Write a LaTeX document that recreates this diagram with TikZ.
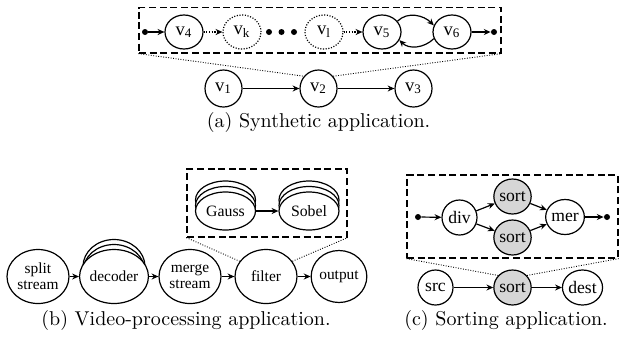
\documentclass[tikz,border=0pt]{standalone}
\usepackage{fontspec}
\newfontfamily\tms{Liberation Serif}
\usetikzlibrary{shapes.geometric,arrows.meta}
\begin{document}
\begin{tikzpicture}[x=0.5pt,y=0.5pt,
  every node/.style={inner sep=0pt},
  nd/.style={ellipse,draw,line width=0.6pt,fill=white,align=center},
  na/.style={nd,minimum width=19pt,minimum height=17pt,font=\tms\fontsize{9.3}{10}\selectfont},
  nab/.style={nd,minimum width=18.5pt,minimum height=18.5pt,font=\tms\fontsize{9.3}{10}\selectfont},
  dotn/.style={dash pattern=on 0.55pt off 0.8pt},
  nb/.style={nd,minimum width=31pt,minimum height=27pt,font=\tms\fontsize{7.7}{8.2}\selectfont},
  nbs/.style={nd,minimum width=30pt,minimum height=19pt,font=\tms\fontsize{7.9}{8}\selectfont},
  nc/.style={nd,minimum width=17.5pt,minimum height=17.5pt,font=\tms\fontsize{8.8}{9}\selectfont},
  grayf/.style={fill=black!16},
  bdot/.style={circle,fill,minimum size=3pt},
  arr/.style={line width=0.6pt,-{Stealth[length=3.4pt,width=3pt]}},
  dbox/.style={draw,line width=0.6pt,dash pattern=on 3.5pt off 1.8pt},
  link/.style={line width=0.45pt,dash pattern=on 0.45pt off 0.8pt},
  capt/.style={font=\fontsize{10}{12}\selectfont,anchor=base}
]
\useasboundingbox (0,0) rectangle (619,-339);

% ---------- (a) ----------
\node[dbox,minimum width=181pt,minimum height=22.75pt] (boxa) at (320,-30.25) {};
\node[bdot] (ina) at (145,-32) {};
\node[na] (v4) at (184,-32) {v\textsubscript{4}};
\node[na,dotn] (vk) at (242,-32) {v\textsubscript{k}};
\node[bdot] (d1) at (269,-32) {};
\node[bdot] (d2) at (281.5,-32) {};
\node[bdot] (d3) at (294,-32) {};
\node[na,dotn] (vl) at (324,-32) {v\textsubscript{l}};
\node[na] (v5) at (382,-32) {v\textsubscript{5}};
\node[na] (v6) at (452,-32) {v\textsubscript{6}};
\node[bdot] (outa) at (494,-32) {};
\draw[arr] (ina) -- (v4);
\draw[arr,dotn] (v4) -- (vk);
\draw[arr,dotn] (vl) -- (v5);
\draw[arr] (v5.35) to[out=45,in=135] (v6.160);
\draw[arr] (v6.200) to[out=-135,in=-45] (v5.-25);
\draw[arr] (v6) -- (outa);

\node[nab] (v1) at (223.5,-88.5) {v\textsubscript{1}};
\node[nab] (v2) at (318.5,-88.5) {v\textsubscript{2}};
\node[nab] (v3) at (413.5,-88.5) {v\textsubscript{3}};
\draw[arr] (v1) -- (v2);
\draw[arr] (v2) -- (v3);
\draw[link] (boxa.south west) -- (v2.140);
\draw[link] (v2.40) -- (boxa.south east);
\node[capt] (capa) at (318.5,-127) {(a) Synthetic application.};

% ---------- (b) ----------
\node[dbox,minimum width=80pt,minimum height=34pt] (boxb) at (267,-203) {};
\node[nbs] (g3) at (225.5,-200) {};
\node[nbs] (g2) at (225.5,-205.5) {};
\node[nbs] (gauss) at (225.5,-211) {Gauss};
\node[nbs] (s3) at (309,-200) {};
\node[nbs] (s2) at (309,-205.5) {};
\node[nbs] (sobel) at (309,-211) {Sobel};
\draw[arr] (gauss) -- (sobel);

\node[nb] (split) at (38,-276.5) {split\\stream};
\node[nb] (dec3) at (114,-266.5) {};
\node[nb] (dec2) at (114,-271.5) {};
\node[nb] (dec) at (114,-276.5) {decoder};
\node[nb] (merge) at (190,-276.5) {merge\\stream};
\node[nb] (filter) at (266,-276.5) {filter};
\node[nb,minimum width=26.5pt,minimum height=26pt] (output) at (339,-276.5) {output};
\draw[arr] (split) -- (dec);
\draw[arr] (dec) -- (merge);
\draw[arr] (merge) -- (filter);
\draw[arr] (filter) -- (output);
\draw[link] (boxb.south west) -- (filter.150);
\draw[link] (filter.30) -- (boxb.south east);
\node[capt] (capb) at (186,-325) {(b) Video-processing application.};

% ---------- (c) ----------
\node[dbox,minimum width=105.5pt,minimum height=41.5pt] (boxc) at (512.5,-216.5) {};
\node[bdot] (inc) at (418,-217) {};
\node[nc] (div) at (459.5,-217.5) {div};
\node[nc,grayf] (st) at (512.5,-196.5) {sort};
\node[nc,grayf] (sb) at (512.5,-237.5) {sort};
\node[nc] (mer) at (565,-217) {mer};
\node[bdot] (outc) at (607,-217) {};
\draw[arr] (inc) -- (div);
\draw[arr] (div) -- (st);
\draw[arr] (div) -- (sb);
\draw[arr] (st) -- (mer);
\draw[arr] (sb) -- (mer);
\draw[arr] (mer) -- (outc);

\node[nc] (src) at (435.5,-287.5) {src};
\node[nc,grayf] (srt) at (512.5,-287.5) {sort};
\node[nc] (dest) at (582.5,-287.5) {dest};
\draw[arr] (src) -- (srt);
\draw[arr] (srt) -- (dest);
\draw[link] (boxc.south west) -- (srt.140);
\draw[link] (srt.40) -- (boxc.south east);
\node[capt] (capc) at (506,-325) {(c) Sorting application.};
\end{tikzpicture}
\end{document}
